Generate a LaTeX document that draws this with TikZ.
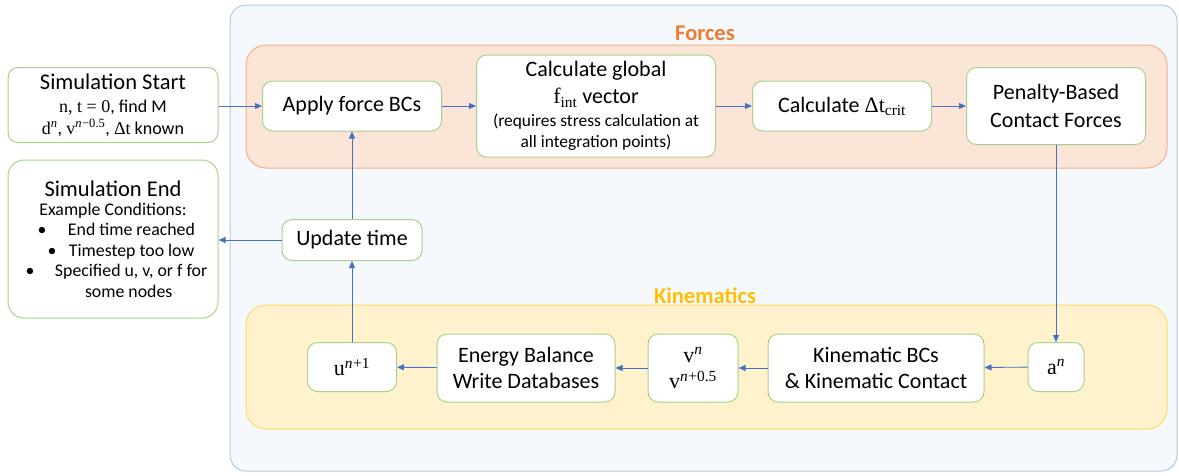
\documentclass[tikz,border=0pt]{standalone}
\usepackage{fontspec}
\setmainfont{Carlito}
\newfontfamily\mrm{Liberation Serif}
\usetikzlibrary{arrows.meta}
\definecolor{outerfill}{HTML}{F5F8FC}
\definecolor{outerline}{HTML}{B4C7E7}
\definecolor{forcefill}{HTML}{FBE5D6}
\definecolor{forceline}{HTML}{F4B183}
\definecolor{forcetext}{HTML}{ED7D31}
\definecolor{kinfill}{HTML}{FFF2CC}
\definecolor{kinline}{HTML}{FFD966}
\definecolor{kintext}{HTML}{FFC000}
\definecolor{boxline}{HTML}{A9D18E}
\definecolor{arrowcol}{HTML}{4472C4}
\newcommand{\smalltxt}{\fontsize{17.4}{21}\selectfont}
\newcommand{\titletxt}{\fontsize{22.5}{26}\selectfont}
% symbols set in a serif face, with italic superscripts
\newcommand{\symb}[1]{{\mrm #1}}
\newcommand{\supit}[1]{\textsuperscript{\mrm\itshape #1}}
\newcommand{\suprm}[1]{\textsuperscript{\mrm #1}}
\newcommand{\subrm}[1]{\textsubscript{\mrm #1}}
% one bulleted line: bullet centre and text start measured from the line's left end
\newcommand{\bulline}[3]{\makebox[190pt][l]{\hspace{#1}\makebox[0pt]{\textbullet}\hspace{#2}#3}}
\newcommand{\indline}[2]{\makebox[190pt][l]{\hspace{#1}#2}}
\begin{document}
\begin{tikzpicture}[x=1pt,y=-1pt,
  stepbox/.style={draw=boxline, line width=1pt, fill=white, rounded corners=10pt,
    inner sep=0pt, align=center, font=\fontsize{22}{26.5}\selectfont},
  flow/.style={draw=arrowcol, line width=0.9pt, -{Triangle[length=7pt,width=6pt]}},
  grouplabel/.style={font=\bfseries\fontsize{22.5}{26}\selectfont}]
\useasboundingbox (0,0) rectangle (1179,475);

% background groups
\draw[draw=outerline, fill=outerfill, line width=1pt, rounded corners=16pt]
  (230,5) rectangle (1177,471);
\draw[draw=forceline, fill=forcefill, line width=1pt, rounded corners=20pt]
  (246,45) rectangle (1167,168);
\draw[draw=kinline, fill=kinfill, line width=1pt, rounded corners=20pt]
  (246,305) rectangle (1167,429);
\node[grouplabel, text=forcetext] (forceslbl) at (705,33) {Forces};
\node[grouplabel, text=kintext] (kinlbl) at (705,296) {Kinematics};

% force stage
\node[stepbox, minimum width=179pt, minimum height=50pt] (apply) at (352,106) {Apply force BCs};
\node[stepbox, minimum width=239pt, minimum height=102pt] (fint) at (596,106)
  {Calculate global\\[1pt] \symb{f}\subrm{int} vector\\[-4pt]
   \smalltxt (requires stress calculation at\\[-5pt]
   \smalltxt all integration points)};
\node[stepbox, minimum width=179pt, minimum height=50pt] (dtcrit) at (842,106)
  {Calculate \symb{Δt}\subrm{crit}};
\node[stepbox, minimum width=179pt, minimum height=77pt] (penalty) at (1056,106)
  {Penalty-Based\\[1pt] Contact Forces};

% start / end
\node[stepbox, minimum width=210pt, minimum height=75pt, font=\fontsize{18}{22}\selectfont] (start) at (113,105)
  {\titletxt Simulation Start\\[1pt]
   \symb{n, t = 0}, find M\\
   \symb{d}\supit{n}, \symb{v}\supit{n}\suprm{−0.5}, \symb{Δt} known};
\node[stepbox, minimum width=210pt, minimum height=158pt, rounded corners=16pt,
      font=\fontsize{17.8}{20.5}\selectfont] (send) at (113,239)
  {\titletxt Simulation End\\[-2pt]
   Example Conditions:\\
   \bulline{24pt}{26pt}{End time reached}\\
   \bulline{34pt}{17pt}{Timestep too low}\\
   \bulline{12pt}{25pt}{Specified u, v, or f for}\\
   \indline{67pt}{some nodes}};

\node[stepbox, minimum width=140pt, minimum height=41pt] (update) at (352,240) {Update time};

% kinematics stage
\node[stepbox, minimum width=56pt, minimum height=49pt] (an) at (1056,367) {\symb{a}\supit{n}};
\node[stepbox, minimum width=216pt, minimum height=68pt] (kbc) at (876,368)
  {Kinematic BCs\\ \& Kinematic Contact};
\node[stepbox, minimum width=90pt, minimum height=68pt] (vel) at (693,368)
  {\symb{v}\supit{n}\\ \symb{v}\supit{n}\suprm{+0.5}};
\node[stepbox, minimum width=178pt, minimum height=68pt] (energy) at (526,368)
  {Energy Balance\\ Write Databases};
\node[stepbox, minimum width=89pt, minimum height=49pt] (unew) at (352,367) {\symb{u}\supit{n}\suprm{+1}};

% connectors
\draw[flow] (apply.west -| start.east) -- (apply.west);
\draw[flow] (apply) -- (fint);
\draw[flow] (fint) -- (dtcrit);
\draw[flow] (dtcrit) -- (penalty);
\draw[flow] (penalty.south) -- (an.north);
\draw[flow] (an) -- (kbc);
\draw[flow] (kbc) -- (vel);
\draw[flow] (vel) -- (energy);
\draw[flow] (energy) -- (unew);
\draw[flow] (unew.north) -- (update.south);
\draw[flow] (update.north) -- (apply.south);
\draw[flow] (update.west) -- (update.west -| send.east);
\end{tikzpicture}
\end{document}
